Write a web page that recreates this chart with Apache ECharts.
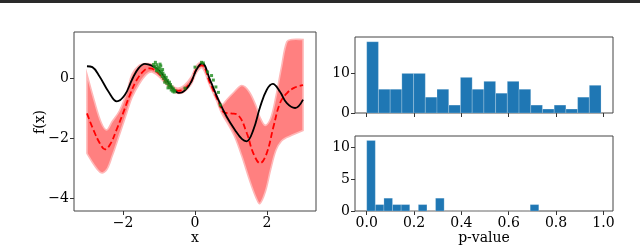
<!DOCTYPE html>
<html><head><meta charset="utf-8">
<script src="https://cdn.jsdelivr.net/npm/echarts@6/dist/echarts.min.js"></script>
<style>html,body{margin:0;padding:0;background:#fff}#c{width:640px;height:246px}</style>
</head><body><div id="c"></div>
<script>
// ---- data ----
const trueCurve = [[-3.0,0.39],[-2.85,0.36],[-2.65,0.05],[-2.4,-0.46],[-2.17,-0.78],[-1.95,-0.57],[-1.75,-0.06],[-1.57,0.32],[-1.39,0.47],[-1.2,0.41],[-1.0,0.25],[-0.79,-0.07],[-0.6,-0.38],[-0.43,-0.5],[-0.25,-0.38],[-0.1,-0.12],[0.05,0.3],[0.2,0.49],[0.42,-0.07],[0.65,-0.73],[0.88,-1.29],[1.11,-1.73],[1.3,-2.03],[1.43,-2.11],[1.62,-1.73],[1.81,-0.96],[1.99,-0.4],[2.16,-0.2],[2.36,-0.46],[2.55,-0.84],[2.78,-1.0],[3.0,-0.72]];
const meanCurve = [[-3.0,-1.18],[-2.82,-1.73],[-2.64,-2.18],[-2.5,-2.38],[-2.35,-2.2],[-2.18,-1.73],[-2.0,-1.18],[-1.81,-0.57],[-1.62,-0.07],[-1.4,0.26],[-1.25,0.32],[-0.97,0.1],[-0.69,-0.29],[-0.46,-0.43],[-0.14,-0.18],[0.05,0.32],[0.19,0.42],[0.42,-0.18],[0.65,-0.79],[0.8,-1.14],[1.0,-1.18],[1.2,-1.24],[1.44,-1.84],[1.62,-2.51],[1.81,-2.84],[1.99,-2.51],[2.18,-1.62],[2.36,-0.84],[2.55,-0.51],[2.75,-0.33],[3.0,-0.24]];
const bandX     = [-3.0,-2.8,-2.6,-2.45,-2.3,-2.1,-1.9,-1.75,-1.55,-1.35,-1.2,-1.0,-0.8,-0.6,-0.45,-0.3,-0.1,0.05,0.2,0.4,0.6,0.75,0.9,1.1,1.3,1.5,1.7,1.8,1.95,2.1,2.25,2.4,2.55,2.7,3.0];
const bandUpper = [0.12,-0.75,-1.5,-1.73,-1.45,-1.1,-0.5,0.12,0.42,0.48,0.45,0.22,-0.06,-0.29,-0.34,-0.25,0.04,0.42,0.52,-0.02,-0.56,-0.88,-0.7,-0.45,-0.25,-0.45,-0.95,-1.3,-1.58,-1.35,-0.6,0.35,1.2,1.28,1.28];
const bandLower = [-2.51,-2.9,-3.16,-3.05,-2.6,-1.9,-1.18,-0.65,-0.2,0.12,0.2,0.04,-0.22,-0.45,-0.52,-0.46,-0.2,0.2,0.33,-0.22,-0.76,-1.2,-1.5,-1.95,-2.6,-3.35,-4.0,-4.18,-3.8,-3.05,-2.4,-2.1,-1.98,-1.9,-1.75];
const obsPoints = [[-1.15,0.45],[-1.13,0.38],[-1.1,0.52],[-1.08,0.33],[-1.06,0.44],[-1.04,0.27],[-1.02,0.36],[-1.0,0.2],[-0.98,0.31],[-0.96,0.14],[-0.95,0.4],[-0.93,0.22],[-0.91,0.05],[-0.89,0.16],[-0.87,-0.02],[-0.85,0.09],[-0.84,-0.14],[-0.82,-0.06],[-0.8,0.02],[-0.78,-0.18],[-0.76,-0.08],[-0.75,-0.33],[-0.73,-0.24],[-0.71,-0.14],[-0.7,-0.32],[-0.68,-0.22],[-0.66,-0.4],[-0.64,-0.3],[-0.62,-0.44],[-0.6,-0.36],[-0.58,-0.47],[-0.56,-0.42],[-1.07,0.24],[-0.97,0.46],[-0.9,0.28],[-0.28,-0.34],[0.0,0.36],[0.18,0.52],[0.23,0.5],[0.35,0.2],[0.46,0.08],[0.51,-0.07],[0.58,-0.3],[0.65,-0.48],[0.7,-0.9]];
const pvalTop = [18,6,6,10,10,4,6,2,9,6,8,5,8,6,2,1,2,1,4,7];
const pvalBottom = [11,1,2,1,1,0,1,0,2,0,0,0,0,0,0,0,0,0,0,1];
const topBinRange = [0.0, 0.99];
const bottomBinRange = [0.0, 0.727];
const leftXTicks = [-2,0,2];
const leftYTicks = [-4,-2,0];
const histXTicks = [0,0.2,0.4,0.6,0.8,1.0];
const topYTicks = [0,10];
const bottomYTicks = [0,5,10];

// ---- chart ----
const FONT = 'DejaVu Serif';
const FS = 14;
const minus = v => String(v).replace('-', '\u2212');
function histData(counts, range){
  const w = (range[1]-range[0])/counts.length;
  return counts.map((c,i)=>[range[0]+i*w, range[0]+(i+1)*w, c]);
}
function valAxis(gi, min, max, ticks, fmt, showLabel){
  return {type:'value', gridIndex:gi, min:min, max:max,
    splitLine:{show:false},
    axisLine:{show:false, onZero:false},
    axisTick:{show:true, inside:false, length:4, customValues:ticks, lineStyle:{color:'#333', width:1}},
    axisLabel:{show:showLabel!==false, customValues:ticks, formatter:fmt, fontFamily:FONT, fontSize:FS, color:'#000', margin:5}
  };
}
function rectRender(params, api){
  const p0 = api.coord([api.value(0), api.value(2)]);
  const p1 = api.coord([api.value(1), 0]);
  return {type:'rect', shape:{x:p0[0], y:p0[1], width:p1[0]-p0[0], height:p1[1]-p0[1]},
    style:{fill:'#1f77b4', stroke:'rgba(255,255,255,0.35)', lineWidth:0.6}};
}
const bandData = bandX.map((x,i)=>[x, bandLower[i], bandUpper[i]]);
function bandRender(params, api){
  if (params.dataIndex !== 0) return null;
  const up = bandData.map(d=>api.coord([d[0], d[2]]));
  const lo = bandData.map(d=>api.coord([d[0], d[1]]));
  const n = up.length;
  const pts = [up[0]].concat(up).concat([up[n-1], lo[n-1]]).concat(lo.slice().reverse()).concat([lo[0]]);
  return {type:'polygon', shape:{points:pts, smooth:0.35},
    style:{fill:'#ff8080', stroke:'#ffb8b8', lineWidth:1.6}};
}
const chart = echarts.init(document.getElementById('c'), null, {renderer:'canvas'});
chart.setOption({
  animation:false,
  backgroundColor:'#fff',
  grid:[
    {left:74, top:32, width:242, height:179, show:true, borderColor:'#444', borderWidth:1, backgroundColor:'transparent'},
    {left:355, top:37, width:258, height:76, show:true, borderColor:'#444', borderWidth:1, backgroundColor:'transparent'},
    {left:355, top:136, width:258, height:75, show:true, borderColor:'#444', borderWidth:1, backgroundColor:'transparent'}
  ],
  xAxis:[
    valAxis(0, -3.36, 3.36, leftXTicks, minus),
    valAxis(1, -0.0495, 1.0405, histXTicks, v=>v.toFixed(1), false),
    valAxis(2, -0.0495, 1.0405, histXTicks, v=>v.toFixed(1))
  ],
  yAxis:[
    valAxis(0, -4.43, 1.53, leftYTicks, minus),
    valAxis(1, 0, 19.2, topYTicks, v=>String(v)),
    valAxis(2, 0, 11.7, bottomYTicks, v=>String(v))
  ],
  graphic:[
    {type:'rect', left:0, top:0, shape:{width:640, height:3}, style:{fill:'#2a2a2a'}},
    {type:'text', x:195, y:238, style:{text:'x', font:FS+'px "'+FONT+'"', fill:'#000', align:'center', verticalAlign:'middle'}},
    {type:'text', x:484, y:238, style:{text:'p-value', font:FS+'px "'+FONT+'"', fill:'#000', align:'center', verticalAlign:'middle'}},
    {type:'text', x:40, y:122, rotation:Math.PI/2, style:{text:'f(x)', font:FS+'px "'+FONT+'"', fill:'#000', align:'center', verticalAlign:'middle'}}
  ],
  series:[
    {type:'custom', xAxisIndex:0, yAxisIndex:0, data:bandData, renderItem:bandRender, encode:{x:0, y:[1,2]}, z:1, clip:true},
    {type:'line', xAxisIndex:0, yAxisIndex:0, data:meanCurve, smooth:0.4, showSymbol:false,
      lineStyle:{color:'#ff0000', width:1.8, type:[6,3]}, z:3},
    {type:'line', xAxisIndex:0, yAxisIndex:0, data:trueCurve, smooth:0.4, showSymbol:false,
      lineStyle:{color:'#000', width:1.8}, z:4},
    {type:'scatter', xAxisIndex:0, yAxisIndex:0, data:obsPoints, symbol:'rect', symbolSize:3,
      itemStyle:{color:'#1a8a1a'}, z:5},
    {type:'custom', xAxisIndex:1, yAxisIndex:1, data:histData(pvalTop, topBinRange), renderItem:rectRender,
      encode:{x:[0,1], y:2}},
    {type:'custom', xAxisIndex:2, yAxisIndex:2, data:histData(pvalBottom, bottomBinRange), renderItem:rectRender,
      encode:{x:[0,1], y:2}}
  ]
});
</script></body></html>
